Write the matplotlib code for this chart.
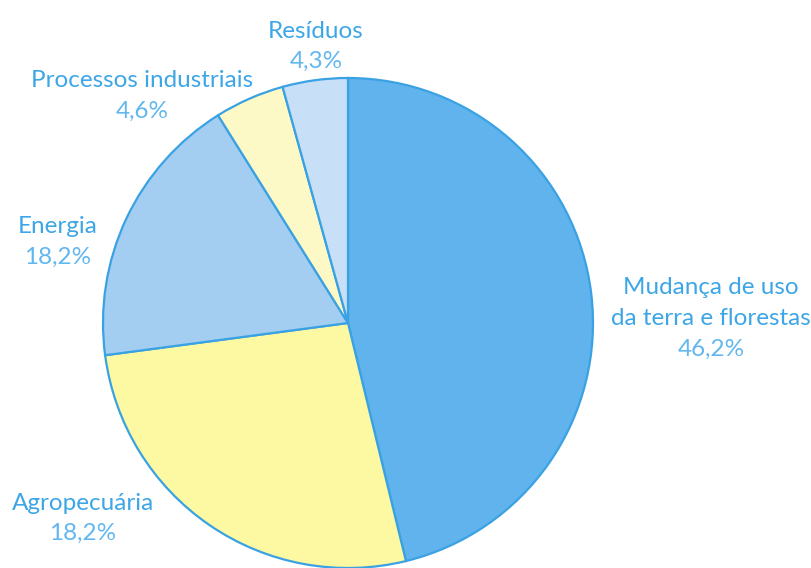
import matplotlib
matplotlib.use("Agg")
import matplotlib.pyplot as plt

categories = ["Mudança de uso\nda terra e florestas", "Agropecuária", "Energia",
              "Processos industriais", "Resíduos"]
values = [46.2, 26.7, 18.2, 4.6, 4.3]
pct_labels = ["46,2%", "18,2%", "18,2%", "4,6%", "4,3%"]
colors = ["#60B3EC", "#FCF9A2", "#A4CEF1", "#FDF9C6", "#C8E0F7"]

W, H = 812, 568
fig = plt.figure(figsize=(W / 100, H / 100), dpi=100)
ax = fig.add_axes([0, 0, 1, 1])

cx, cy, r = 348, H - 323, 245
ax.pie(values, colors=colors, startangle=90, counterclock=False,
       center=(cx, cy), radius=r, frame=True,
       wedgeprops=dict(edgecolor="#3AA2E3", linewidth=1.6))
ax.set_xlim(0, W)
ax.set_ylim(0, H)
ax.set_aspect("equal")
ax.axis("off")

# label anchor positions (pixels, center x, top line center y)
label_pos = [(711, 288), (83, 503), (58, 227), (142, 81), (316, 31)]
name_color = "#3DA6E6"
pct_color = "#62B7EF"
font = "Lato"
lh = 30.5
for name, pct, (x, y) in zip(categories, pct_labels, label_pos):
    lines = name.split("\n")
    for i, ln in enumerate(lines):
        ax.text(x, H - (y + i * lh), ln, ha="center", va="center",
                fontsize=17.5, color=name_color, family=font)
    ax.text(x, H - (y + len(lines) * lh), pct, ha="center", va="center",
            fontsize=17.5, color=pct_color, family=font)

fig.savefig("out.png", dpi=100)
